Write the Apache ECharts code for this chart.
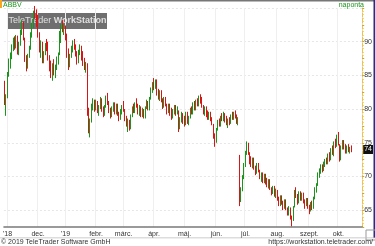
<!DOCTYPE html>
<html>
<head>
<meta charset="utf-8">
<script src="https://cdn.jsdelivr.net/npm/echarts@6/dist/echarts.min.js"></script>
<style>
  html, body { margin: 0; padding: 0; background: #fff; }
  #chart { width: 375px; height: 246px; }
</style>
</head>
<body>
<div id="chart"></div>
<script>
// daily candles, [open, close, low, high]
const oct18 = [
  [83.8, 81.0, 80.6, 84.2], [80.8, 81.8, 79.0, 82.2]
];
const nov18 = [
  [82.0, 85.0, 81.6, 85.5], [85.2, 87.0, 84.8, 87.5], [86.8, 88.0, 86.0, 88.4], [88.0, 89.2, 87.4, 89.6],
  [89.3, 90.2, 88.6, 90.6], [90.0, 89.1, 88.8, 90.8], [89.4, 90.6, 89.0, 91.0], [90.5, 88.6, 88.1, 90.9],
  [88.7, 89.6, 88.0, 90.0], [89.8, 91.4, 89.4, 91.8], [91.6, 92.6, 91.0, 93.2], [92.4, 90.6, 90.2, 93.0],
  [90.2, 87.4, 87.0, 90.6], [87.2, 86.2, 85.6, 88.0], [86.4, 87.8, 86.0, 88.2], [88.0, 89.0, 87.6, 89.4],
  [89.2, 91.0, 88.8, 91.4], [91.0, 92.4, 90.6, 92.8], [92.6, 94.2, 92.0, 94.6], [94.3, 94.0, 93.4, 95.3],
  [93.8, 92.6, 92.2, 94.8]
];
const dec18 = [
  [93.0, 91.0, 90.6, 94.0], [90.8, 88.8, 88.4, 91.4], [88.4, 89.8, 87.6, 90.2], [89.6, 87.2, 86.8, 90.0],
  [87.4, 88.2, 86.8, 88.6], [88.4, 89.4, 88.0, 89.8], [89.6, 89.0, 88.6, 90.4], [89.2, 87.6, 87.2, 90.0],
  [87.4, 86.0, 85.6, 88.0], [86.2, 85.2, 84.6, 87.2], [85.4, 86.4, 84.2, 86.8], [86.6, 85.6, 85.0, 87.4],
  [85.4, 86.2, 84.6, 86.6], [86.4, 87.4, 85.8, 87.8], [87.2, 88.0, 86.6, 88.4], [88.4, 91.2, 88.0, 91.6],
  [91.0, 92.2, 89.8, 92.6], [92.4, 91.8, 91.4, 93.2], [91.6, 92.2, 91.0, 92.6]
];
const jan19 = [
  [91.6, 90.8, 90.2, 92.4], [90.6, 88.0, 87.6, 91.2], [88.4, 86.4, 85.8, 89.0], [86.6, 87.8, 86.2, 88.2],
  [88.0, 89.0, 87.6, 89.4], [89.0, 89.8, 88.4, 90.2], [89.6, 89.2, 88.8, 90.4], [89.0, 88.2, 87.8, 89.6],
  [88.0, 87.0, 86.6, 88.6], [87.2, 88.4, 86.8, 88.8], [88.6, 89.2, 88.0, 89.6], [89.0, 87.6, 87.2, 89.4],
  [87.8, 86.8, 86.4, 88.6], [87.0, 86.2, 85.8, 87.6], [86.4, 86.6, 85.4, 87.0], [86.2, 79.6, 79.0, 86.8],
  [79.4, 77.0, 76.4, 80.2], [77.2, 78.2, 75.8, 78.6], [78.4, 80.4, 78.0, 80.8], [80.4, 81.2, 79.8, 81.6],
  [81.0, 80.0, 79.6, 81.4]
];
const feb19 = [
  [80.2, 81.0, 79.8, 81.4], [80.8, 79.8, 79.4, 81.2], [79.6, 80.2, 79.0, 80.6], [80.4, 81.4, 80.0, 81.8],
  [81.2, 80.0, 79.6, 81.6], [79.8, 79.2, 78.8, 80.4], [79.4, 80.4, 79.0, 80.6], [80.6, 81.6, 80.2, 82.0],
  [81.6, 81.0, 80.6, 82.4], [80.8, 79.8, 79.4, 81.2], [79.6, 79.0, 78.6, 80.2], [79.2, 80.0, 78.8, 80.4],
  [80.2, 80.8, 79.6, 81.0], [80.6, 79.4, 79.2, 81.0], [79.6, 80.6, 79.2, 80.8], [80.4, 79.2, 79.0, 80.8],
  [79.0, 78.6, 78.2, 79.6], [78.8, 79.8, 78.4, 80.0], [79.8, 80.2, 79.2, 80.6]
];
const mar19 = [
  [80.4, 79.8, 79.6, 81.2], [79.6, 78.6, 78.2, 80.0], [78.4, 77.8, 77.4, 79.0], [77.8, 78.2, 76.6, 78.6],
  [78.0, 77.2, 76.8, 78.4], [77.4, 79.0, 77.0, 79.2], [79.2, 80.2, 78.8, 80.4], [80.0, 79.6, 79.4, 80.8],
  [79.8, 80.8, 79.4, 81.0], [80.8, 80.6, 80.2, 81.6], [80.4, 79.4, 79.2, 80.8], [79.6, 80.2, 79.0, 80.6],
  [80.0, 79.0, 78.8, 80.4], [79.2, 79.8, 78.8, 80.2], [79.6, 78.8, 78.6, 80.0], [79.0, 80.2, 78.6, 80.4],
  [80.4, 81.0, 80.0, 81.4], [80.8, 80.0, 79.8, 81.2], [80.2, 81.6, 79.8, 81.8], [81.8, 82.8, 81.4, 83.2],
  [82.8, 83.6, 82.4, 84.0]
];
const apr19 = [
  [83.8, 83.2, 82.8, 84.6], [83.4, 84.0, 83.0, 84.4], [84.0, 82.4, 82.0, 84.4], [82.2, 81.8, 81.4, 83.0],
  [81.8, 82.6, 81.2, 82.8], [82.4, 81.4, 81.0, 82.8], [81.2, 80.4, 80.0, 81.6], [80.6, 81.6, 80.2, 81.8],
  [81.4, 80.6, 80.4, 81.8], [80.4, 79.6, 79.2, 80.8], [79.8, 80.6, 79.4, 80.8], [80.4, 79.2, 79.0, 80.8],
  [79.4, 78.8, 78.4, 80.2], [79.0, 79.8, 78.6, 80.0], [79.8, 80.4, 79.2, 80.6], [80.2, 79.4, 79.0, 80.6],
  [79.6, 80.0, 79.2, 80.4], [79.6, 77.2, 76.6, 79.8], [77.4, 78.4, 77.0, 78.8], [78.6, 79.2, 78.0, 79.6],
  [79.0, 78.2, 77.8, 79.4]
];
const may19 = [
  [78.2, 77.8, 77.4, 79.0], [78.0, 79.4, 77.6, 79.6], [79.2, 78.2, 77.8, 79.6], [78.0, 78.8, 77.6, 79.0],
  [79.0, 80.0, 78.6, 80.2], [79.8, 79.4, 79.2, 80.4], [79.6, 80.8, 79.2, 81.0], [80.6, 80.0, 79.8, 81.2],
  [80.2, 81.2, 79.8, 81.4], [81.2, 80.6, 80.4, 81.6], [80.8, 81.8, 80.4, 82.0], [81.6, 81.0, 80.8, 82.2],
  [81.2, 80.4, 80.2, 81.8], [80.2, 79.4, 79.2, 80.6], [79.6, 80.2, 79.0, 80.4], [80.0, 79.0, 78.8, 80.4],
  [79.2, 78.6, 78.4, 79.8], [78.8, 79.4, 78.4, 79.6], [79.2, 78.4, 78.2, 79.6], [78.2, 78.0, 77.6, 78.8],
  [77.6, 76.0, 75.6, 77.8], [75.8, 75.0, 74.4, 76.4]
];
const jun19 = [
  [75.2, 77.0, 75.0, 77.2], [77.2, 78.2, 76.8, 78.4], [78.0, 77.6, 77.4, 78.6], [77.8, 78.8, 77.4, 79.0],
  [78.8, 78.4, 78.2, 79.4], [78.6, 79.2, 78.2, 79.6], [79.0, 78.2, 78.0, 79.4], [78.4, 77.8, 77.6, 79.0],
  [77.8, 78.4, 77.2, 78.6], [78.2, 77.8, 77.6, 78.8], [78.0, 79.0, 77.8, 79.2], [79.0, 78.6, 78.4, 79.6],
  [78.8, 79.4, 78.4, 79.6], [79.2, 78.8, 78.6, 79.8], [78.6, 78.0, 77.8, 79.2], [78.2, 78.4, 77.6, 78.8],
  [72.6, 66.6, 65.6, 73.2], [66.8, 68.0, 66.2, 68.4], [68.2, 69.8, 67.8, 70.2], [70.0, 71.6, 69.6, 72.0]
];
const jul19 = [
  [71.8, 73.4, 71.4, 73.8], [73.6, 74.8, 73.2, 75.2], [74.8, 73.4, 73.2, 75.0], [73.2, 72.2, 71.8, 73.6],
  [72.4, 71.6, 71.4, 73.0], [71.6, 72.6, 71.2, 72.8], [72.4, 71.2, 71.0, 72.8], [71.0, 70.6, 70.2, 71.6],
  [70.8, 71.8, 70.4, 72.0], [71.6, 70.8, 70.6, 72.0], [70.6, 69.8, 69.6, 71.0], [69.8, 70.4, 69.2, 70.6],
  [70.2, 69.2, 69.0, 70.6], [69.4, 70.2, 69.0, 70.4], [70.0, 69.0, 68.8, 70.4], [69.2, 68.6, 68.4, 69.8],
  [68.6, 69.4, 68.2, 69.6], [69.2, 68.2, 68.0, 69.6], [68.0, 67.6, 67.2, 68.4], [67.8, 68.4, 67.4, 68.6],
  [68.2, 67.2, 67.0, 68.6], [67.4, 67.8, 66.8, 68.2]
];
const aug19 = [
  [67.6, 66.6, 66.4, 68.0], [66.4, 65.8, 65.6, 67.0], [66.0, 67.0, 65.6, 67.2], [66.8, 66.0, 65.8, 67.2],
  [65.8, 65.4, 65.0, 66.4], [65.6, 66.4, 65.2, 66.6], [66.2, 65.2, 65.0, 66.6], [65.0, 64.4, 64.2, 65.4],
  [64.6, 65.4, 64.2, 65.6], [65.2, 63.8, 63.6, 65.4], [63.6, 63.4, 62.6, 64.2], [63.6, 65.4, 63.4, 65.6],
  [65.6, 67.6, 65.4, 68.0], [67.4, 67.0, 66.8, 68.4], [66.8, 66.2, 65.8, 67.4], [66.4, 67.6, 66.0, 67.8],
  [67.4, 66.6, 66.4, 67.8], [66.8, 67.4, 66.4, 67.6], [67.2, 66.2, 66.0, 67.6], [66.0, 65.6, 65.2, 66.6],
  [65.8, 66.6, 65.6, 66.8], [66.4, 65.4, 65.2, 66.8]
];
const sep19 = [
  [65.2, 64.8, 64.4, 65.8], [65.0, 66.0, 64.8, 66.2], [66.0, 65.2, 65.0, 66.4], [65.4, 66.8, 65.2, 67.0],
  [66.8, 68.2, 66.6, 68.4], [68.2, 68.8, 67.6, 69.0], [68.8, 70.4, 68.6, 70.6], [70.4, 70.8, 69.8, 71.2],
  [70.8, 71.6, 70.4, 71.8], [71.4, 71.0, 70.6, 71.8], [71.2, 72.0, 70.8, 72.2], [72.0, 72.4, 71.4, 72.6],
  [72.2, 72.0, 71.8, 72.8], [72.2, 73.2, 71.8, 73.4], [73.0, 72.6, 72.2, 73.6], [72.8, 74.0, 72.4, 74.2],
  [74.0, 73.4, 73.2, 74.6], [73.4, 75.0, 73.0, 75.2], [75.0, 74.4, 74.2, 75.6], [74.6, 76.0, 74.4, 76.2]
];
const oct19 = [
  [76.0, 74.8, 74.6, 76.6], [74.6, 72.6, 72.2, 74.8], [72.8, 74.4, 72.4, 74.6], [74.4, 75.0, 74.0, 75.4],
  [75.0, 74.2, 74.0, 75.4], [74.2, 73.6, 73.4, 74.8], [73.8, 74.4, 73.4, 74.6], [74.4, 73.8, 73.6, 74.8],
  [73.8, 74.2, 73.4, 74.4], [74.2, 74.0, 73.6, 74.6]
];

const holidays = ['2018-11-22', '2018-12-05', '2018-12-25', '2019-01-01', '2019-01-21',
  '2019-02-18', '2019-04-19', '2019-05-27', '2019-07-04', '2019-09-02'];
const monthNames = ['jan.', 'febr.', 'márc.', 'ápr.', 'máj.', 'jún.', 'júl.', 'aug.', 'szept.', 'okt.', 'nov.', 'dec.'];
const yTicks = [65, 70, 75, 80, 85, 90];

const candles = [].concat(oct18, nov18, dec18, jan19, feb19, mar19, apr19, may19, jun19, jul19, aug19, sep19, oct19);

function tradingDays(from, to) {
  const out = [];
  const d = new Date(from + 'T00:00:00Z');
  const end = new Date(to + 'T00:00:00Z');
  while (d <= end) {
    const s = d.toISOString().slice(0, 10);
    const wd = d.getUTCDay();
    if (wd !== 0 && wd !== 6 && holidays.indexOf(s) < 0) out.push(s);
    d.setUTCDate(d.getUTCDate() + 1);
  }
  return out;
}

const dates = tradingDays('2018-10-30', '2019-10-14');
// a few empty slots at the right edge
const categories = dates.concat(['_1', '_2', '_3', '_4', '_5', '_6', '_7']);

function isMonthStart(i) {
  return i > 0 && i < dates.length && dates[i].slice(5, 7) !== dates[i - 1].slice(5, 7);
}
const firstLabel = dates.findIndex((d, i) => isMonthStart(i));
const lastClose = candles[candles.length - 1][1];

const green = '#1a941a';
const red = '#d81414';
const font = 'Liberation Sans';

const chart = echarts.init(document.getElementById('chart'));
chart.setOption({
  animation: false,
  grid: { left: 1.3, right: 11, top: 8, bottom: 19 },
  xAxis: {
    type: 'category',
    data: categories,
    boundaryGap: true,
    axisLine: { lineStyle: { color: '#7a7a7a', width: 1.5 } },
    axisTick: { interval: isMonthStart, length: 3, lineStyle: { color: '#555' } },
    axisLabel: {
      interval: isMonthStart,
      margin: 4,
      fontSize: 7,
      fontFamily: font,
      color: '#333',
      formatter: (val, i) => {
        const m = +val.slice(5, 7);
        if (m === 1 || i === firstLabel) return "'" + val.slice(2, 4);
        return monthNames[m - 1];
      }
    },
    splitLine: { show: true, interval: isMonthStart, lineStyle: { color: '#efefef', width: 1 } }
  },
  yAxis: {
    type: 'value',
    position: 'right',
    min: 62.5,
    max: 95,
    interval: 2.5,
    axisLine: { show: true, lineStyle: { color: '#f0c24a', width: 1, type: 'dashed' } },
    axisTick: { show: true, length: 2, lineStyle: { color: '#c9a23a' } },
    minorTick: { show: true, splitNumber: 5, length: 1.5, lineStyle: { color: '#f0c24a' } },
    axisLabel: {
      margin: 2,
      fontSize: 7,
      fontFamily: font,
      color: '#333',
      formatter: v => (yTicks.indexOf(v) >= 0 ? String(v) : '')
    },
    splitLine: { show: true, lineStyle: { color: ['transparent', '#e6e6e6'], type: [2, 2] } }
  },
  series: [{
    type: 'candlestick',
    data: candles,
    barWidth: 1.2,
    itemStyle: {
      color: green, color0: red,
      borderColor: green, borderColor0: red,
      borderWidth: 1
    },
    markLine: {
      silent: true,
      symbol: 'none',
      data: [{ yAxis: lastClose }],
      lineStyle: { color: 'transparent' },
      label: {
        position: 'end',
        distance: 1,
        formatter: String(Math.round(lastClose)),
        backgroundColor: '#111',
        color: '#fff',
        fontSize: 7,
        fontFamily: font,
        padding: [1, 1, 1, 1]
      }
    }
  }],
  graphic: [
    { type: 'rect', left: 0, top: 0, shape: { width: 375, height: 1.5 }, style: { fill: '#777' }, z: 10 },
    { type: 'rect', left: 0, top: 0, shape: { width: 2, height: 8 }, style: { fill: '#f5a623' }, z: 11 },
    { type: 'text', left: 3, top: 1.5, style: { text: 'ABBV', fill: green, font: '7px "Liberation Sans"' }, z: 11 },
    { type: 'text', right: 11, top: 1.5, style: { text: 'naponta', fill: green, font: '7px "Liberation Sans"' }, z: 11 },
    { type: 'rect', left: 373.5, top: 0, shape: { width: 1.5, height: 238 }, style: { fill: '#1f2f8f' }, z: 11 },
    { type: 'rect', left: 363.5, top: 227.5, shape: { width: 10, height: 10 }, style: { fill: 'none', stroke: '#999', lineWidth: 1 }, z: 11 },
    { type: 'rect', left: 0, top: 237.5, shape: { width: 375, height: 0.8 }, style: { fill: '#bbb' }, z: 11 },
    {
      type: 'group', left: 8, top: 13, z: 20,
      children: [
        { type: 'rect', shape: { width: 99, height: 16 }, style: { fill: 'rgba(70,70,70,0.78)' } },
        {
          type: 'text', x: 49.5, y: 8,
          style: {
            text: '{a|TeleTrader }{b|WorkStation}',
            align: 'center', verticalAlign: 'middle',
            rich: {
              a: { fill: '#e0e0e0', font: '9px "Liberation Sans"' },
              b: { fill: '#e0e0e0', font: 'bold 9px "Liberation Sans"' }
            }
          }
        }
      ]
    },
    { type: 'text', left: 1, top: 239, style: { text: '© 2019 TeleTrader Software GmbH', fill: '#333', font: '7px "Liberation Sans"' }, z: 11 },
    { type: 'text', right: 2, top: 239, style: { text: 'https://workstation.teletrader.com/', fill: '#333', font: '7px "Liberation Sans"' }, z: 11 }
  ]
});
</script>
</body>
</html>
